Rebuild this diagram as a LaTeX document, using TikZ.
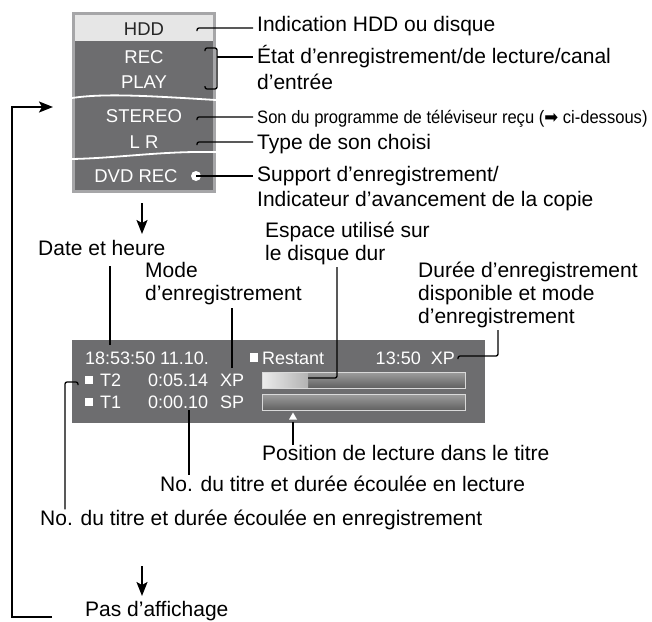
\documentclass[tikz,border=0pt]{standalone}
\usepackage{fontspec}
\setmainfont{Liberation Sans}
\newfontfamily\symfont{DejaVu Sans}
\usetikzlibrary{arrows.meta,calc}
\definecolor{pgray}{HTML}{6D6D6F}
\definecolor{pborder}{HTML}{A6A6A8}
\definecolor{hddfill}{HTML}{E6E6E6}
\begin{document}
\begin{tikzpicture}[x=1pt,y=-1pt,
  lbl/.style={inner sep=0pt, anchor=base west, font=\fontsize{21}{25}\selectfont},
  ptxt/.style={inner sep=0pt, anchor=base, text=white, font=\fontsize{18.5}{22}\selectfont},
  dtxt/.style={inner sep=0pt, anchor=base west, text=white, font=\fontsize{18}{22}\selectfont},
  lead/.style={line width=1.3pt, rounded corners=2pt},
  sqm/.style={fill=white, inner sep=0pt, minimum size=8.5pt},
  flow/.style={line width=1.6pt, -{Stealth[length=14pt,width=11pt,inset=3pt]}},
  barbox/.style={draw=white!85!black, line width=0.9pt, top color=black!38, bottom color=black!62, inner sep=0pt, minimum width=203pt, minimum height=16pt},
  wave/.style={white, line width=1.8pt}
]
\useasboundingbox (0,0) rectangle (652,621);

% ---------- top panel ----------
\node (panel) [fill=pgray, draw=pborder, line width=3pt, minimum width=141pt, minimum height=178pt, inner sep=0pt] at (144,102.5) {};
\fill[hddfill] (75,15) rectangle (213,41);
\draw[wave] (72,98) .. controls (105,93) and (150,96) .. (216,100);
\draw[wave] (72,159) .. controls (120,158) and (160,151) .. (216,152);

\node[ptxt, text=black!85] (hdd) at (144,35.5) {HDD};
\node[ptxt] (rec) at (144,63.5) {REC};
\node[ptxt] (play) at (144,88.5) {PLAY};
\node[ptxt] (stereo) at (144,122.5) {STEREO};
\node[ptxt] (lr) at (144,148.5) {L R};
\node[ptxt] (dvd) at (136,182.5) {DVD REC};
\node (dot) [circle, fill=white, inner sep=0pt, minimum size=10pt] at (196,176) {};

% ---------- top labels ----------
\node[lbl] (L1) at (257,31) {Indication HDD ou disque};
\node[lbl] (L2a) at (257,63) {État d’enregistrement/de lecture/canal};
\node[lbl] (L2b) at (257,89) {d’entrée};
\node[lbl, font=\fontsize{18}{22}\selectfont] (L4) at (257,123) {\scalebox{0.92}[1]{Son du programme de téléviseur reçu ({\symfont ➡} ci-dessous)}};
\node[lbl] (L5) at (257,149) {Type de son choisi};
\node[lbl] (L6a) at (257,181) {Support d’enregistrement/};
\node[lbl] (L6b) at (257,206) {Indicateur d’avancement de la copie};

% ---------- top leaders ----------
\coordinate (c1) at (197,28);
\coordinate (brT) at (217,48);
\coordinate (brB) at (217,89);
\coordinate (brM) at (217,57);
\coordinate (c4) at (197,117);
\coordinate (c5) at (197,142);
\draw[lead] ($(c1)+(0,3)$) -- (c1) -- ($(c1 -| L1.base west)+(-4,0)$);
\draw[lead] (205,51) -- (205,48) -- (brT) -- (brB) -- (205,89) -- (205,86);
\draw[lead] (brM) -- ($(brM -| L2a.base west)+(-4,0)$);
\draw[lead] ($(c4)+(0,3)$) -- (c4) -- ($(c4 -| L4.base west)+(-4,0)$);
\draw[lead] ($(c5)+(0,3)$) -- (c5) -- ($(c5 -| L5.base west)+(-4,0)$);
\draw[lead] (dot.center) -- ($(dot.center -| L6a.base west)+(-4,0)$);

% ---------- loop arrow and down arrows ----------
\coordinate (lpA) at (52,617);
\coordinate (lpB) at (12,617);
\coordinate (lpC) at (12,107);
\coordinate (lpD) at (53,107);
\draw[flow, line width=2pt] (lpA) -- (lpB) -- (lpC) -- (lpD);
\coordinate (d1a) at (142,203);
\coordinate (d1b) at (142,234);
\draw[flow] (d1a) -- (d1b);
\coordinate (d2a) at (142,566);
\coordinate (d2b) at (142,596);
\draw[flow] (d2a) -- (d2b);

% ---------- middle labels ----------
\node[lbl] (date) at (38,255) {Date et heure};
\node[lbl] (esp1) at (265,237) {Espace utilisé sur};
\node[lbl] (esp2) at (265,260) {le disque dur};
\node[lbl] (mode1) at (145,277) {Mode};
\node[lbl] (mode2) at (145,300) {d’enregistrement};
\node[lbl] (dur1) at (418,277) {Durée d’enregistrement};
\node[lbl] (dur2) at (418,300) {disponible et mode};
\node[lbl] (dur3) at (418,323) {d’enregistrement};

% ---------- display ----------
\node (disp) [fill=pgray, minimum width=413pt, minimum height=83pt, inner sep=0pt] at (278.5,381.5) {};
\node[dtxt] (clock) at (85,364) {18:53:50 11.10.};
\node[sqm] (sq0) at (254,357.5) {};
\node[dtxt] (rest) at (262,364) {Restant};
\node[dtxt, anchor=base east] (remain) at (455,364) {13:50 \ XP};

\node[sqm] (sq2) at (89,380) {};
\node[dtxt] (t2) at (100,386) {T2};
\node[dtxt] (t2time) at (148,386) {0:05.14};
\node[dtxt] (t2mode) at (220,386) {XP};
\node[sqm] (sq1) at (89,402) {};
\node[dtxt] (t1) at (100,408) {T1};
\node[dtxt] (t1time) at (148,408) {0:00.10};
\node[dtxt] (t1mode) at (220,408) {SP};

\node[barbox] (bar1) at (363.5,380) {};
\node[barbox] (bar2) at (363.5,402) {};
\fill[left color=white!92!black, right color=black!30] (263,373) rectangle (308,387);
\coordinate (used) at (308,378);
\fill[white] (289,419.5) -- (297,419.5) -- (293,412.5) -- cycle;

% ---------- middle leaders ----------
\coordinate (dA) at (110,266);
\coordinate (dB) at (110,345);
\draw[lead] (dA) -- (dB);
\coordinate (eA) at (337,267);
\coordinate (eB) at (337,378);
\draw[lead] (eA) -- (eB) -- (used);
\coordinate (mA) at (232,308);
\coordinate (mB) at (232,368);
\draw[lead] (mA) -- (mB);
\coordinate (uA) at (498,330);
\coordinate (uB) at (498,356);
\coordinate (uC) at (458,356);
\draw[lead] (uA) -- (uB) -- (uC) -- (458,359);

% ---------- lower labels ----------
\node[lbl] (pos) at (262,460) {Position de lecture dans le titre};
\node[lbl] (lec) at (160,491) {No. du titre et durée écoulée en lecture};
\node[lbl] (enr) at (40,525) {No. du titre et durée écoulée en enregistrement};
\node[lbl] (pas) at (85,616) {Pas d’affichage};

% ---------- lower leaders ----------
\coordinate (pA) at (293,422);
\draw[lead] (pA) -- (pos.north -| pA);
\coordinate (lA) at (189,410);
\draw[lead] (lA) -- (lec.north -| lA);
\coordinate (rA) at (78,385);
\coordinate (rB) at (78,382);
\coordinate (rC) at (65,382);
\draw[lead] (rA) -- (rB) -- (rC) -- (enr.north -| rC);
\end{tikzpicture}
\end{document}
